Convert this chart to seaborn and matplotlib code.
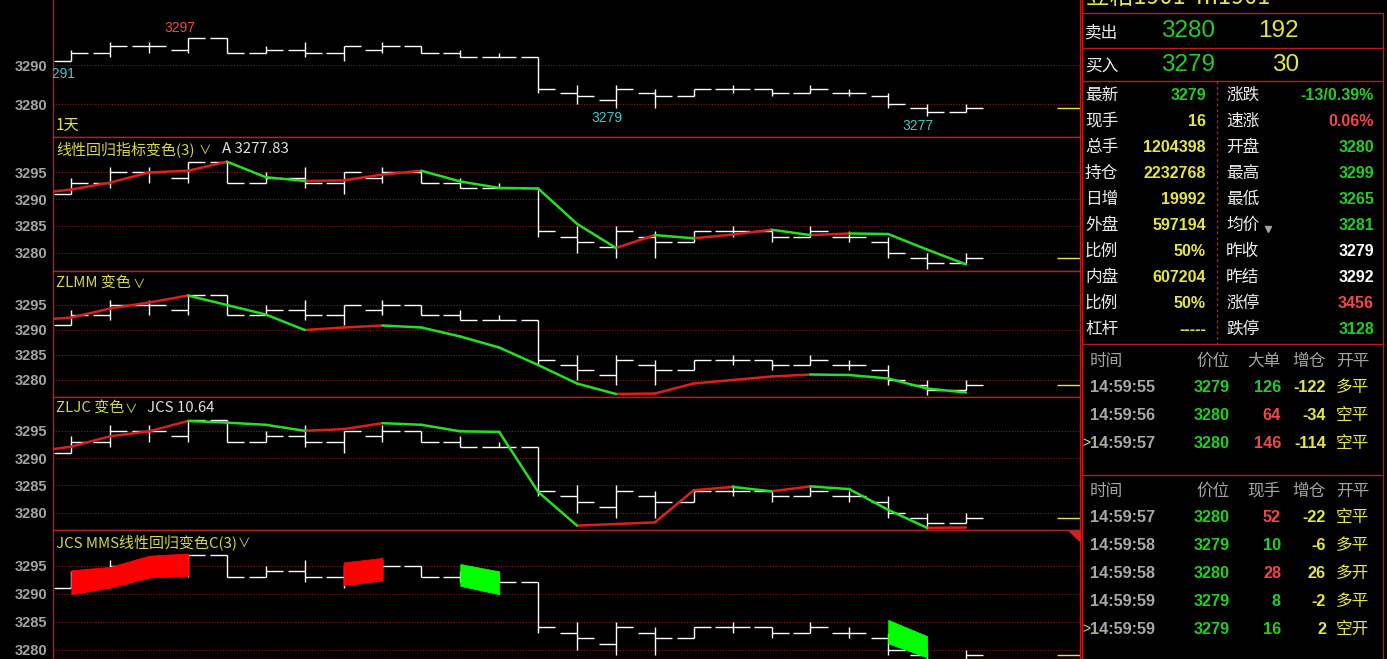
import numpy as np
import pandas as pd
import matplotlib
matplotlib.use('Agg')
import matplotlib.pyplot as plt
import seaborn as sns

# bars, one per period
opens  = [3291, 3293, 3295, 3294, 3297, 3293, 3294, 3293, 3294, 3295, 3293, 3292,
          3292, 3283, 3281, 3283, 3282, 3284, 3284, 3283, 3283, 3282, 3279, 3278]
highs  = [3294, 3296, 3296, 3297, 3297, 3295, 3296, 3295, 3296, 3295, 3294, 3293,
          3292, 3285, 3285, 3284, 3284, 3285, 3284, 3285, 3284, 3283, 3280, 3280]
lows   = [3291, 3292, 3293, 3293, 3293, 3293, 3292, 3291, 3293, 3293, 3292, 3292,
          3283, 3280, 3279, 3279, 3282, 3283, 3282, 3283, 3282, 3279, 3277, 3278]
closes = [3293, 3295, 3295, 3297, 3293, 3294, 3293, 3295, 3295, 3293, 3292, 3292,
          3284, 3282, 3284, 3282, 3284, 3284, 3283, 3284, 3283, 3280, 3278, 3279]
prev_low = 3291          # low of the bar just left of the window
last_price = 3279
mark_high = [3]
mark_low = [14, 22]

# indicator lines, first value belongs to the bar before the window (index -1)
lr_line = [3291.0, 3291.8, 3293.1, 3295.0, 3295.3, 3297.0, 3294.1, 3293.4, 3293.5,
           3294.6, 3295.3, 3293.3, 3292.1, 3292.0, 3285.4, 3280.9, 3283.3, 3282.7,
           3283.4, 3284.3, 3283.3, 3283.6, 3283.5, 3280.6, 3277.83]
zlmm_line = [3291.9, 3292.5, 3294.3, 3295.5, 3296.9, 3295.0, 3293.1, 3290.0, 3290.5,
             3290.9, 3290.5, 3288.7, 3286.5, 3283.0, 3279.3, 3277.2, 3277.3, 3279.3,
             3280.0, 3280.7, 3281.1, 3281.0, 3280.3, 3278.3, 3277.5]
zljc_line = [3291.1, 3292.1, 3294.0, 3294.9, 3296.8, 3296.5, 3296.1, 3295.0, 3295.3,
             3296.4, 3296.1, 3294.9, 3294.8, 3283.8, 3277.6, 3277.9, 3278.2, 3284.1,
             3284.7, 3283.9, 3284.8, 3284.3, 3280.5, 3277.2, 3277.25]

# MMS band, nan where nothing is drawn
nan = np.nan
mms_upper = [3294.2, 3294.8, 3296.8, 3297.2, nan, nan, nan, 3295.6, 3296.4, nan,
             3295.3, 3294.0, nan, nan, nan, nan, nan, nan, nan, nan, nan,
             3285.3, 3282.4, nan]
mms_lower = [3289.9, 3291.1, 3292.9, 3293.2, nan, nan, nan, 3291.5, 3292.4, nan,
             3291.4, 3289.9, nan, nan, nan, nan, nan, nan, nan, nan, nan,
             3281.1, 3278.6, nan]

# right side quote board
title_text = '豆粕1901  m1901'
ask_price, ask_vol = 3280, 192
bid_price, bid_vol = 3279, 30
left_names = ['最新', '现手', '总手', '持仓', '日增', '外盘', '比例', '内盘', '比例', '杠杆']
left_vals = ['3279', '16', '1204398', '2232768', '19992', '597194', '50%', '607204', '50%', '-----']
right_names = ['涨跌', '速涨', '开盘', '最高', '最低', '均价', '昨收', '昨结', '涨停', '跌停']
right_vals = ['-13/0.39%', '0.06%', '3280', '3299', '3265', '3281', '3279', '3292', '3456', '3128']

big_times = ['14:59:55', '14:59:56', '14:59:57']
big_prices = [3279, 3280, 3280]
big_sizes = [126, 64, 146]
big_oi = [-122, -34, -114]
big_kind = ['多平', '空平', '空平']

tick_times = ['14:59:57', '14:59:58', '14:59:58', '14:59:59', '14:59:59']
tick_prices = [3280, 3279, 3280, 3279, 3279]
tick_vols = [52, 10, 28, 8, 16]
tick_oi = [-22, -6, 26, -2, 2]
tick_kind = ['空平', '多平', '多开', '多平', '空开']

# colours
RED = '#e01c1c'
GREEN = '#22e022'
BORDER = '#b41e1e'
GRID = '#8a1818'
YEL = '#e6e640'
TGREEN = '#26cc26'
TRED = '#f04848'
GREY = '#a4a4a4'
CYAN = '#40c8c8'

sns.set_style('dark')
plt.rcParams['font.family'] = ['Liberation Sans', 'Noto Sans CJK SC', 'DejaVu Sans']
CJK = ['Noto Sans CJK SC', 'DejaVu Sans']

W, H = 1387, 659
fig = plt.figure(figsize=(W / 100, H / 100), dpi=100, facecolor='black')

L, R = 52.5, 1080
panel_px = [(0, 137), (137, 271), (271, 397), (397, 530), (530, 659)]
ylims = [(3271.6, 3306.7), (3276.6, 3301.6), (3276.6, 3301.8), (3276.8, 3301.2), (3278.3, 3301.4)]
yticks = [[3280, 3290]] + [[3280, 3285, 3290, 3295]] * 4

x = np.arange(len(opens))


def draw_bars(ax):
    ax.vlines(x, lows, highs, color='white', lw=1.0, zorder=2)
    ax.hlines(opens, x - 0.44, x, color='white', lw=1.0, zorder=2)
    ax.hlines(closes, x, x + 0.44, color='white', lw=1.0, zorder=2)
    ax.hlines(last_price, 25.35, 25.93, color=YEL, lw=1.0, zorder=2)


def segments(vals):
    rows = []
    for k in range(len(vals) - 1):
        d = 'up' if vals[k + 1] > vals[k] else 'down'
        rows.append(dict(seg=k, x=k - 1, y=vals[k], dir=d))
        rows.append(dict(seg=k, x=k, y=vals[k + 1], dir=d))
    return pd.DataFrame(rows)


axes = []
for (t, b), yl, yt in zip(panel_px, ylims, yticks):
    ax = fig.add_axes([L / W, 1 - b / H, (R - L) / W, (b - t) / H])
    ax.set_facecolor('black')
    ax.set_yticks(yt)
    ax.set_xticks([])
    ax.grid(False)
    ax.grid(axis='y', color=GRID, linestyle=(0, (1, 1.5)), linewidth=0.8)
    ax.tick_params(axis='y', length=0, pad=4, labelcolor=GREY, labelsize=10.5)
    for lbl in ax.get_yticklabels():
        lbl.set_fontweight('bold')
    for s in ax.spines.values():
        s.set_color(BORDER)
        s.set_linewidth(1.0)
    draw_bars(ax)
    axes.append((ax, yl))
axes[0][0].spines['top'].set_visible(False)

# indicator lines
for (ax, yl), vals in zip(axes[1:4], [lr_line, zlmm_line, zljc_line]):
    sns.lineplot(data=segments(vals), x='x', y='y', hue='dir', units='seg',
                 estimator=None, sort=False, palette={'up': RED, 'down': GREEN},
                 legend=False, lw=1.8, ax=ax, zorder=3)

# band panel
ax5 = axes[4][0]
for k in range(len(mms_upper) - 1):
    if np.isnan(mms_upper[k]) or np.isnan(mms_upper[k + 1]):
        continue
    c = '#ff0000' if mms_upper[k + 1] > mms_upper[k] else '#00ff00'
    ax5.fill_between([k, k + 1], [mms_lower[k], mms_lower[k + 1]],
                     [mms_upper[k], mms_upper[k + 1]], color=c, lw=0.6,
                     edgecolor=c, zorder=3)

for ax, yl in axes:
    ax.set_xlim(-0.483, 25.93)
    ax.set_ylim(*yl)
    ax.set_xlabel('')
    ax.set_ylabel('')

# high / low marks in the top panel
ax1 = axes[0][0]
for i in mark_high:
    ax1.text(i - 0.22, highs[i] + 0.8, str(highs[i]), color=TRED, fontsize=10,
             ha='center', va='bottom')
for i in mark_low:
    ax1.text(i - 0.24, lows[i] - 0.8, str(lows[i]), color=CYAN, fontsize=10,
             ha='center', va='top')
ax1.text(-0.68, prev_low - 1.4, str(prev_low), color=CYAN, fontsize=10,
         ha='left', va='top', clip_on=True)

# overlay in pixel coordinates for titles and the quote board
ov = fig.add_axes([0, 0, 1, 1], zorder=10)
ov.set_xlim(0, W)
ov.set_ylim(H, 0)
ov.axis('off')
ov.patch.set_alpha(0)

ov.text(56, 125, '1天', color=YEL, fontsize=11, va='center', family=CJK)
titles = [
    (149, '线性回归指标变色(3)', 199, 'A 3277.83', 222),
    (283, 'ZLMM 变色', 133, '', 0),
    (408, 'ZLJC 变色', 125, 'JCS 10.64', 147),
    (542, 'JCS MMS线性回归变色C(3)', 238, '', 0),
]
for y, name, cx, extra, ex in titles:
    ov.text(56, y, name, color='#d8d840', fontsize=10.8, va='center', family=CJK)
    ov.text(cx, y + 1, '∨', color='#d8d840', fontsize=9, va='center', family=CJK)
    if extra:
        ov.text(ex, y, extra, color='#e0e0e0', fontsize=10.8, va='center', family=CJK)

# small red corner triangle on the last panel
ov.fill([1068, 1081, 1081], [531, 531, 543], color='#d02020', lw=0)

# quote board frame
ov.plot([1082, 1082], [0, H], color=BORDER, lw=1)
ov.plot([1383, 1383], [13, H], color=BORDER, lw=1)
for yy in [13, 48, 81, 344, 475]:
    ov.plot([1082, 1383], [yy, yy], color=BORDER, lw=1)
ov.plot([1216.5, 1216.5], [81, 344], color=BORDER, lw=1, ls=(0, (2, 2)))

ov.text(1086, -3, title_text, color=YEL, fontsize=17, va='center', family=CJK)
ov.text(1085, 33, '卖出', color='#f0f0f0', fontsize=12, va='center', family=CJK)
ov.text(1215, 31, str(ask_price), color=TGREEN, fontsize=17.5, ha='right', va='center')
ov.text(1299, 31, str(ask_vol), color=YEL, fontsize=17.5, ha='right', va='center')
ov.text(1085, 67, '买入', color='#f0f0f0', fontsize=12, va='center', family=CJK)
ov.text(1215, 65, str(bid_price), color=TGREEN, fontsize=17.5, ha='right', va='center')
ov.text(1299, 65, str(bid_vol), color=YEL, fontsize=17.5, ha='right', va='center')

left_cols = [TGREEN] + [YEL] * 9
right_cols = [TGREEN, TRED, TGREEN, TGREEN, TGREEN, TGREEN, 'white', 'white', TRED, TGREEN]
for k in range(len(left_names)):
    y = 95.5 + 26 * k
    ov.text(1085, y, left_names[k], color='#ececec', fontsize=12, va='center', family=CJK)
    ov.text(1206, y, left_vals[k], color=left_cols[k], fontsize=11.5, fontweight='bold',
            ha='right', va='center')
    ov.text(1226, y, right_names[k], color='#ececec', fontsize=12, va='center', family=CJK)
    ov.text(1374, y, right_vals[k], color=right_cols[k], fontsize=11.5, fontweight='bold',
            ha='right', va='center')
ov.plot([1267.5], [228.5], marker='v', ms=5, color=GREY, lw=0)


def trade_table(y0, head3, times, prices, sizes, ois, kinds):
    heads = [('时间', 1090, 'left'), ('价位', 1230, 'right'), (head3, 1281, 'right'),
             ('增仓', 1326, 'right'), ('开平', 1336, 'left')]
    for txt, hx, ha in heads:
        ov.text(hx, y0, txt, color=GREY, fontsize=12, ha=ha, va='center', family=CJK)
    for k in range(len(times)):
        y = y0 + 26 + 28 * k
        ov.text(1090, y, times[k], color='#a8a8a8', fontsize=11.7, fontweight='bold', va='center')
        ov.text(1230, y, str(prices[k]), color=TGREEN, fontsize=11.7, fontweight='bold',
                ha='right', va='center')
        sc = TRED if prices[k] > bid_price else TGREEN
        ov.text(1281, y, str(sizes[k]), color=sc, fontsize=11.7, fontweight='bold',
                ha='right', va='center')
        ov.text(1326, y, str(ois[k]), color=YEL, fontsize=11.7, fontweight='bold',
                ha='right', va='center')
        ov.text(1336, y, kinds[k], color=YEL, fontsize=12, va='center', family=CJK)
    ov.text(1082, y0 + 26 + 28 * (len(times) - 1), '>', color=YEL, fontsize=10, va='center')


trade_table(361.5, '大单', big_times, big_prices, big_sizes, big_oi, big_kind)
trade_table(491.5, '现手', tick_times, tick_prices, tick_vols, tick_oi, tick_kind)

fig.savefig('out.png', dpi=100, facecolor='black')
